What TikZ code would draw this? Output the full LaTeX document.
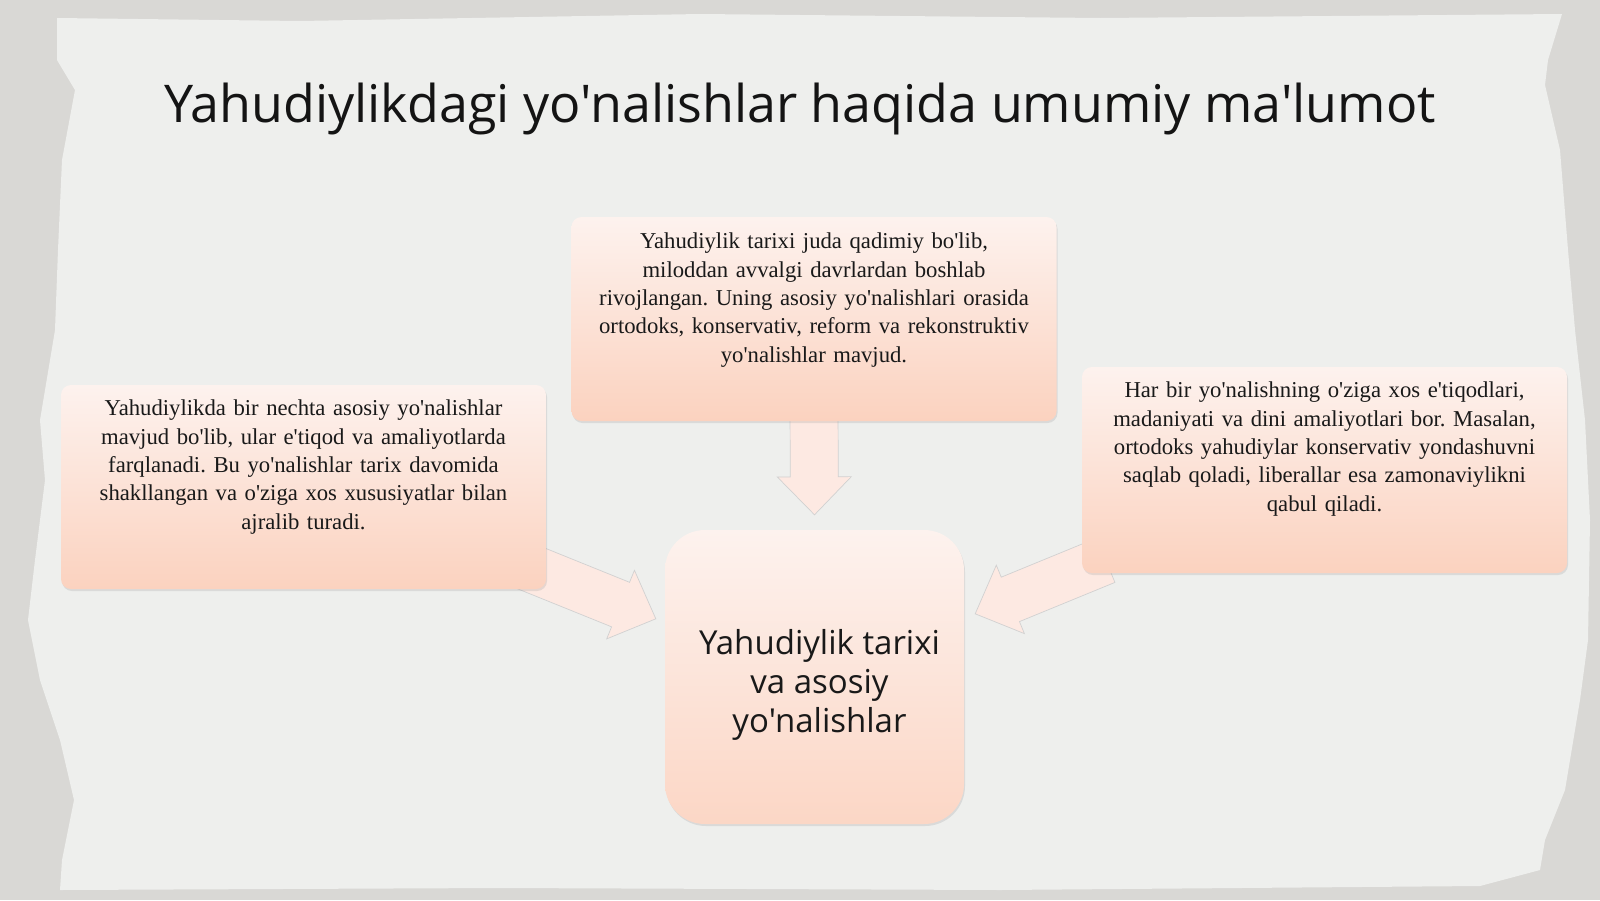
\documentclass[tikz,border=0pt]{standalone}
\usepackage{fontspec}
\newfontfamily\bodyfont{Liberation Serif}
\newfontfamily\headfont{Open Sans}
\usetikzlibrary{calc,shadows}
\pgfdeclarelayer{paper}
\pgfdeclarelayer{arrows}
\pgfsetlayers{paper,arrows,main}
\definecolor{blush}{HTML}{FDF2EE}
\definecolor{peach}{HTML}{FBD2BF}
\definecolor{paperdark}{HTML}{D9D8D5}
\definecolor{paperlight}{HTML}{EEEFED}
\definecolor{arrowfill}{HTML}{FDE9E2}
\frenchspacing
% block arrow from a start point to a tip
\newcommand{\blockarrow}[2]{%
  \coordinate (s) at (#1);
  \coordinate (t) at (#2);
  \coordinate (h) at ($(t)!38pt!(s)$);
  \filldraw[arrowshape] ($(s)!24pt!90:(t)$) -- ($(h)!24pt!90:(t)$) -- ($(h)!37pt!90:(t)$)
    -- (t) -- ($(h)!37pt!-90:(t)$) -- ($(h)!24pt!-90:(t)$) -- ($(s)!24pt!-90:(t)$) -- cycle;
}
\begin{document}
\begin{tikzpicture}[x=1pt,y=-1pt,
  infobox/.style={rounded corners=10pt, minimum width=485pt, minimum height=204pt,
    top color=blush, bottom color=peach,
    drop shadow={opacity=0.18, shadow xshift=1pt, shadow yshift=-2pt}},
  infotext/.style={text width=470pt, align=center, anchor=north, inner sep=0pt,
    font=\bodyfont\fontsize{22.7}{28.4}\selectfont, text=black!90},
  hubbox/.style={rounded corners=40pt, minimum width=299pt, minimum height=294pt,
    top color=blush, bottom color=peach!90,
    drop shadow={opacity=0.18, shadow xshift=1pt, shadow yshift=-2pt}},
  hubtext/.style={align=center, inner sep=0pt, font=\headfont\fontsize{33}{39}\selectfont, text=black!90},
  arrowshape/.style={fill=arrowfill, draw=black!18, line width=0.7pt}]
\useasboundingbox (0,0) rectangle (1600,900);
% paper
\begin{pgfonlayer}{paper}
  \fill[paperdark] (0,0) rectangle (1600,900);
  \fill[paperlight] (57,18) -- (300,21) -- (700,14) -- (1100,18) -- (1562,14) -- (1548,60)
    -- (1545,85) -- (1560,150) -- (1568,250) -- (1575,330) -- (1585,420) -- (1590,520)
    -- (1588,640) -- (1580,700) -- (1565,790) -- (1545,840) -- (1540,870) -- (1480,886)
    -- (1000,890) -- (500,888) -- (60,890) -- (62,860) -- (74,800) -- (60,740) -- (40,680)
    -- (28,620) -- (35,560) -- (45,480) -- (40,420) -- (55,330) -- (58,250) -- (62,160)
    -- (75,90) -- (57,60) -- cycle;
\end{pgfonlayer}
% title
\node[font=\headfont\fontsize{52}{60}\selectfont, anchor=base, text=black!92] (title) at (800,122)
  {Yahudiylikdagi yo'nalishlar haqida umumiy ma'lumot};
% boxes
\node[infobox] (topbox) at (814,319) {};
\node[infotext] (toptext) at ($(topbox.north)+(0,16)$)
  {Yahudiylik tarixi juda qadimiy bo'lib,\\ miloddan avvalgi davrlardan boshlab\\
   rivojlangan. Uning asosiy yo'nalishlari orasida\\ ortodoks, konservativ, reform va rekonstruktiv\\
   yo'nalishlar mavjud.};
\node[infobox] (leftbox) at (303.5,487) {};
\node[infotext] (lefttext) at ($(leftbox.north)+(0,15)$)
  {Yahudiylikda bir nechta asosiy yo'nalishlar\\ mavjud bo'lib, ular e'tiqod va amaliyotlarda\\
   farqlanadi. Bu yo'nalishlar tarix davomida\\ shakllangan va o'ziga xos xususiyatlar bilan\\
   ajralib turadi.};
\node[infobox, minimum height=206pt] (rightbox) at (1324.5,470) {};
\node[infotext] (righttext) at ($(rightbox.north)+(0,15)$)
  {Har bir yo'nalishning o'ziga xos e'tiqodlari,\\ madaniyati va dini amaliyotlari bor. Masalan,\\
   ortodoks yahudiylar konservativ yondashuvni\\ saqlab qoladi, liberallar esa zamonaviylikni\\
   qabul qiladi.};
\node[hubbox] (hub) at (814.5,677) {};
\node[hubtext] (hubtext) at ($(hub.center)+(5,8)$) {Yahudiylik tarixi\\ va asosiy\\ yo'nalishlar};
% arrows
\begin{pgfonlayer}{arrows}
  \blockarrow{$(topbox.south)+(0,-10)$}{$(hub.north)+(0,-15)$}
  \blockarrow{$(leftbox.south east)+(-23,-24)$}{$(hub.north west)+(-9,89)$}
  \blockarrow{$(rightbox.south west)+(24,-13)$}{$(hub.north east)+(11,84)$}
\end{pgfonlayer}
\end{tikzpicture}
\end{document}
